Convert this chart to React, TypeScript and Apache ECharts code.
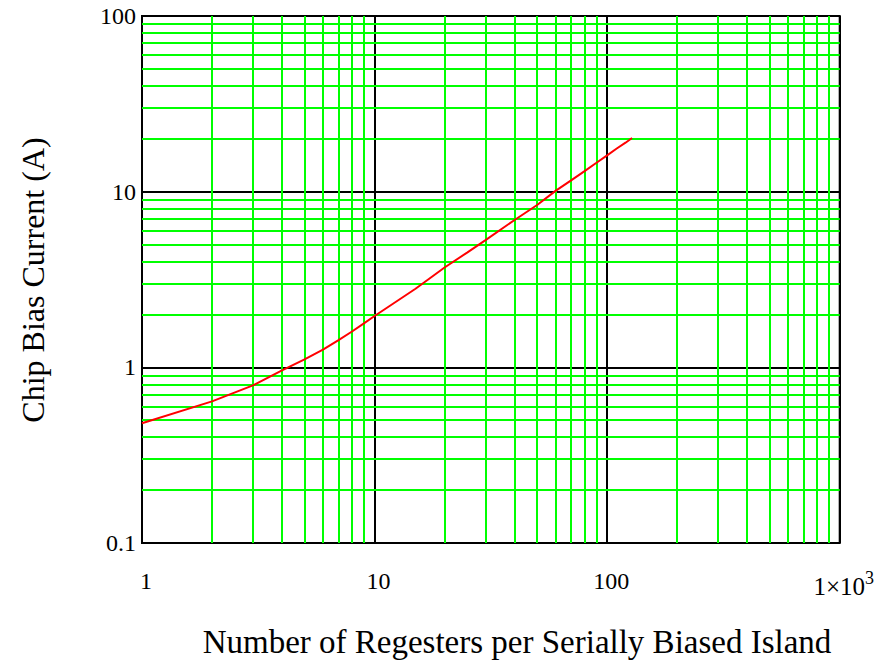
import React, { useEffect, useRef } from "react";
import * as echarts from "echarts";

const xValues = [1, 2, 3, 4, 5, 6, 7, 8, 9, 10, 12, 15, 20, 25, 30, 40, 50, 60, 70, 80, 90, 100, 110, 120, 128];
const yValues = [0.48, 0.64, 0.79, 0.96, 1.11, 1.26, 1.43, 1.6, 1.78, 1.96, 2.3, 2.8, 3.7, 4.5, 5.3, 6.9, 8.4, 10.1, 11.6, 13.1, 14.6, 16.1, 17.6, 19.0, 20.2];
const xMinorGrid = [2, 3, 4, 5, 6, 7, 8, 9, 20, 30, 40, 50, 60, 70, 80, 90, 200, 300, 400, 500, 600, 700, 800, 900];
const yMinorGrid = [0.2, 0.3, 0.4, 0.5, 0.6, 0.7, 0.8, 0.9, 2, 3, 4, 5, 6, 7, 8, 9, 20, 30, 40, 50, 60, 70, 80, 90];
const xTickLabels: Record<string, string> = { "1": "1", "10": "10", "100": "100", "1000": "{a|1×10}{s|3}" };
const yTickLabels: Record<string, string> = { "0.1": "0.1", "1": "1", "10": "10", "100": "100" };
const xTitle = "Number of Regesters per Serially Biased Island";
const yTitle = "Chip Bias Current (A)";

const FONT = "'Liberation Serif', 'Times New Roman', serif";

export default function App() {
  const ref = useRef<HTMLDivElement>(null);
  useEffect(() => {
    if (!ref.current) return;
    const chart = echarts.init(ref.current, undefined, { renderer: "svg" });
    const fmt = (map: Record<string, string>) => (v: number) => {
      const key = String(Math.round(v * 1000) / 1000);
      return map[key] ?? "";
    };
    chart.setOption({
      animation: false,
      backgroundColor: "#ffffff",
      grid: {
        left: 142,
        top: 16,
        right: 36,
        bottom: 121,
        show: true,
        borderColor: "#000000",
        borderWidth: 2,
        backgroundColor: "transparent",
      },
      xAxis: {
        type: "log",
        logBase: 10,
        min: 1,
        max: 1000,
        z: 3,
        axisLine: { show: false },
        axisTick: { show: false },
        splitLine: { show: true, lineStyle: { color: "#000000", width: 2 } },
        axisLabel: {
          margin: 26,
          color: "#000000",
          fontFamily: FONT,
          fontSize: 24,
          padding: [0, 0, 0, 8],
          formatter: fmt(xTickLabels),
          rich: {
            a: { fontFamily: FONT, fontSize: 25, color: "#000" },
            s: { fontFamily: FONT, fontSize: 18, color: "#000", verticalAlign: "bottom", padding: [0, 0, 16, 0] },
          },
        },
      },
      yAxis: {
        type: "log",
        logBase: 10,
        min: 0.1,
        max: 100,
        z: 3,
        axisLine: { show: false },
        axisTick: { show: false },
        splitLine: { show: true, lineStyle: { color: "#000000", width: 2 } },
        axisLabel: {
          margin: 6,
          color: "#000000",
          fontFamily: FONT,
          fontSize: 24,
          padding: [8, 0, 0, 0],
          formatter: fmt(yTickLabels),
        },
      },
      graphic: [
        {
          type: "text",
          x: 33,
          y: 280,
          rotation: Math.PI / 2,
          style: {
            text: yTitle,
            font: `32px ${FONT}`,
            fill: "#000",
            textAlign: "center",
            textVerticalAlign: "middle",
          },
        },
        {
          type: "text",
          x: 517,
          y: 642,
          style: {
            text: xTitle,
            font: `33px ${FONT}`,
            fill: "#000",
            textAlign: "center",
            textVerticalAlign: "middle",
          },
        },
      ],
      series: [
        {
          type: "line",
          z: 1,
          silent: true,
          data: [[1, 0.1]],
          showSymbol: false,
          lineStyle: { opacity: 0 },
          markLine: {
            silent: true,
            symbol: ["none", "none"],
            label: { show: false },
            lineStyle: { type: "solid", color: "#00ff00", width: 2 },
            data: [
              ...xMinorGrid.map((v) => ({ xAxis: v })),
              ...yMinorGrid.map((v) => ({ yAxis: v })),
            ],
          },
        },
        {
          type: "line",
          z: 5,
          data: xValues.map((x, i) => [x, yValues[i]]),
          showSymbol: false,
          lineStyle: { color: "#ff0000", width: 2 },
        },
      ],
    });
    return () => chart.dispose();
  }, []);
  return (
    <div
      ref={ref}
      style={{ position: "fixed", left: 0, top: 0, width: 877, height: 664 }}
    />
  );
}
